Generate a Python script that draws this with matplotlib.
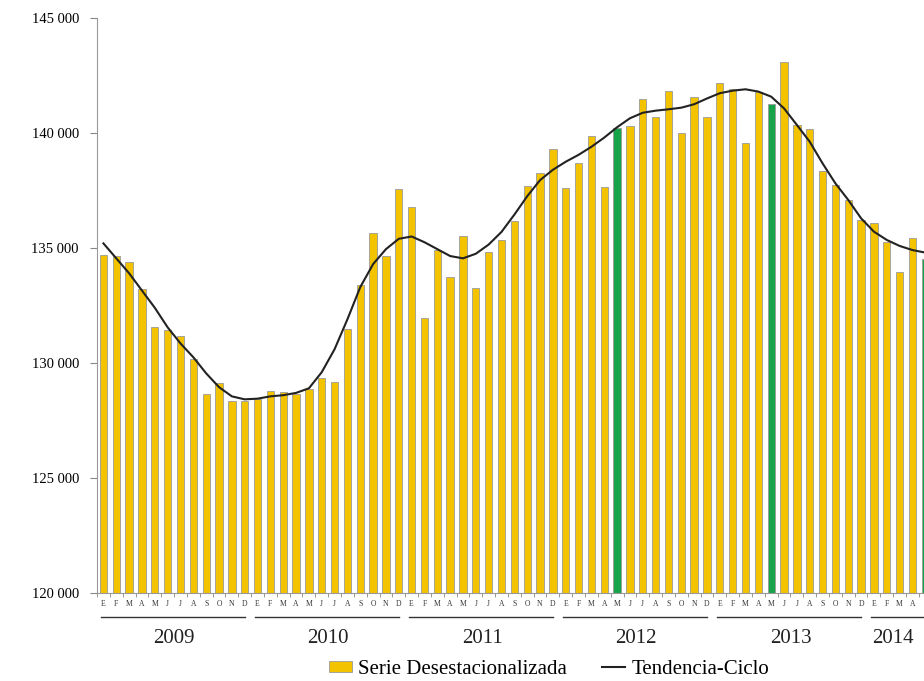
import numpy as np
import matplotlib.pyplot as plt
from matplotlib.patches import Patch
from matplotlib.lines import Line2D
from matplotlib.ticker import FuncFormatter

plt.rcParams['font.family'] = ['Liberation Serif', 'DejaVu Serif']

years = ['2009', '2010', '2011', '2012', '2013', '2014']
month_letters = ['E', 'F', 'M', 'A', 'M', 'J', 'J', 'A', 'S', 'O', 'N', 'D']

# serie desestacionalizada, enero 2009 - mayo 2014
serie = [
    134700, 134650, 134400, 133200, 131550, 131430, 131190, 130160, 128650, 129150, 128360, 128360,
    128430, 128780, 128730, 128650, 128870, 129360, 129190, 131480, 133390, 135670, 134670, 137570,
    136770, 131940, 134910, 133730, 135540, 133240, 134830, 135340, 136170, 137690, 138280, 139300,
    137600, 138680, 139880, 137640, 140230, 140320, 141470, 140710, 141830, 140010, 141580, 140710,
    142160, 141910, 139550, 141780, 141250, 143100, 140350, 140160, 138350, 137740, 137090, 136220,
    136070, 135270, 133940, 135420, 134500,
]

tendencia = [
    135200, 134550, 133900, 133150, 132400, 131550, 130850, 130250, 129550, 128950, 128550, 128420,
    128450, 128550, 128600, 128700, 128900, 129600, 130600, 131900, 133300, 134300, 134950, 135400,
    135500, 135250, 134950, 134650, 134550, 134750, 135150, 135700, 136450, 137250, 137950, 138400,
    138750, 139050, 139400, 139800, 140250, 140640, 140880, 140970, 141030, 141100, 141250, 141500,
    141730, 141840, 141900, 141800, 141580, 141070, 140350, 139620, 138680, 137810, 137090, 136290,
    135710, 135350, 135090, 134910, 134800,
]

# meses destacados en verde (mayo)
highlight = [40, 52, 64]

yellow = '#F3C300'
green = '#16A34A'

x = np.arange(len(serie))
colors = [green if i in highlight else yellow for i in x]

fig = plt.figure(figsize=(9.24, 6.81), dpi=100)
ax = fig.add_axes([0.105, 0.1292, 0.895, 0.8444])

ax.bar(x, serie, width=0.57, color=colors, edgecolor='#9a9a9a', linewidth=0.6, zorder=2)
ax.plot(x, tendencia, color='#222222', linewidth=1.5, zorder=3)

ax.set_yticks(np.arange(120000, 145001, 5000))
ax.yaxis.set_major_formatter(FuncFormatter(lambda v, p: f'{int(v):,}'.replace(',', ' ')))
ax.tick_params(axis='y', labelsize=10.5, length=5, color='#888888', pad=8)

labels = [month_letters[i % 12] for i in x]
ax.set_xticks(x)
ax.set_xticklabels(labels, fontsize=5.5, color='#333333')
ax.set_xticks(np.arange(-0.5, len(serie), 1), minor=True)
ax.tick_params(axis='x', which='major', length=0, pad=5)
ax.tick_params(axis='x', which='minor', length=3, color='#888888')

# the original chart is cropped at the right, through the last bar
ax.set_ylim(120000, 145000)
ax.set_xlim(-0.5, 63.9)

for s in ['top', 'right']:
    ax.spines[s].set_visible(False)
ax.spines['left'].set_color('#999999')
ax.spines['bottom'].set_color('#999999')

# year brackets under the month letters
trans = ax.get_xaxis_transform()
for k, yr in enumerate(years):
    start = k * 12
    end = start + 11
    ax.plot([start - 0.2, end], [-0.0417, -0.0417], transform=trans, color='#333333',
            linewidth=1.0, clip_on=False)
    n = min(12, len(serie) - start)
    center = start + (n - 1) / 2
    if n < 12:
        center -= 0.5
    ax.text(center, -0.079, yr, transform=trans, ha='center', va='center',
            fontsize=15, color='#222222')

handles = [Patch(facecolor=yellow, edgecolor='#9a9a9a', linewidth=0.6),
           Line2D([0], [0], color='#222222', linewidth=1.5)]
fig.legend(handles, ['Serie Desestacionalizada', 'Tendencia-Ciclo'],
           loc='center', bbox_to_anchor=(0.594, 0.017), ncol=2, frameon=False,
           fontsize=15, handlelength=1.1, handleheight=0.45, handletextpad=0.3,
           columnspacing=1.7, borderpad=0)

fig.savefig('out.png', dpi=100)
